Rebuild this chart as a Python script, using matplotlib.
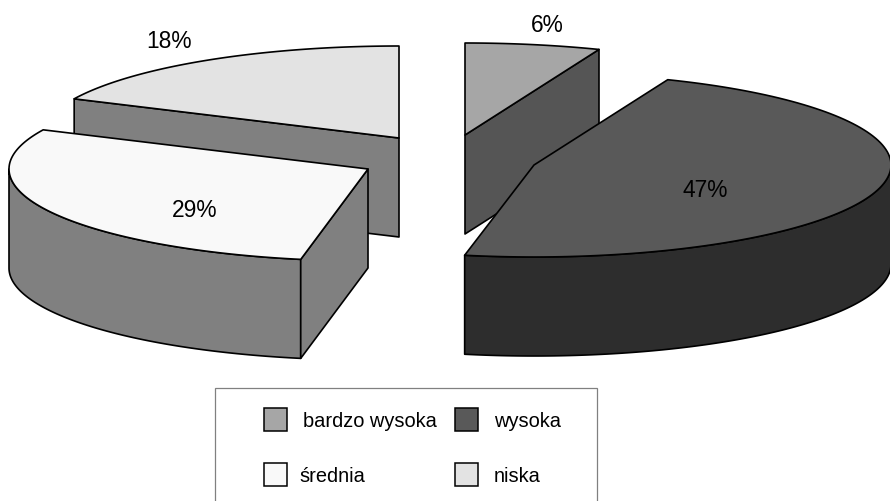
import numpy as np
import matplotlib.pyplot as plt
from matplotlib.patches import Polygon, Rectangle

# udział każdej kategorii w procentach
categories = ['bardzo wysoka', 'wysoka', 'średnia', 'niska']
shares = [6, 47, 29, 18]
top_colors = ['#a6a6a6', '#595959', '#f9f9f9', '#e3e3e3']
side_colors = ['#555555', '#2d2d2d', '#808080', '#808080']

plt.rcParams['font.family'] = ['Liberation Sans', 'DejaVu Sans']

# elipsa w pikselach, grubość plastra, odsunięte środki i lekki obrót plastrów
radii_x = [364, 357, 359, 359]
turn = [0, 0.4, 0, 0]
RY, DEPTH = 92, 99
centers = [(465, 136), (534, 166), (368, 170), (399, 139)]
LW = 1.2

fig = plt.figure(figsize=(8.9, 5.02), dpi=100)
ax = fig.add_axes([0, 0, 1, 1])
ax.set_xlim(0, 890)
ax.set_ylim(502, 0)
ax.axis('off')


# punkt na elipsie, kąt liczony od góry zgodnie z zegarem
def rim(c, rx, deg):
    t = np.radians(deg)
    return np.column_stack([c[0] + rx * np.sin(t), c[1] - RY * np.cos(t)])


def poly(pts, color, z):
    ax.add_patch(Polygon(pts, closed=True, facecolor=color, edgecolor='black',
                         linewidth=LW, joinstyle='round', zorder=z))


edges = np.concatenate([[0], np.cumsum(shares)]) * 3.6
# rysowanie od tyłu: niska, bardzo wysoka, średnia, wysoka
order = [3, 0, 2, 1]

for z, i in enumerate(order):
    c = centers[i]
    rx = radii_x[i]
    a0, a1 = edges[i] + turn[i], edges[i + 1] + turn[i]
    arc = rim(c, rx, np.linspace(a0, a1, 120))
    drop = np.array([0, DEPTH])
    apex = np.array(c, dtype=float)
    z0 = 2 + z * 3

    # ścianka zewnętrzna, tylko z przodu elipsy
    lo, hi = max(a0, 90), min(a1, 270)
    if lo < hi:
        front = rim(c, rx, np.linspace(lo, hi, 120))
        poly(np.vstack([front, (front + drop)[::-1]]), side_colors[i], z0)

    # ścianki wzdłuż promieni
    if i == 0:
        p = arc[-1]
        poly([apex, p, p + drop, apex + drop], side_colors[i], z0 + 1)
    elif i in (2, 3):
        p = arc[0]
        poly([apex, p, p + drop, apex + drop], side_colors[i], z0 + 1)

    # górna powierzchnia
    poly(np.vstack([[apex], arc]), top_colors[i], z0 + 2)

# etykiety procentowe
label_pos = [(547, 25), (705, 191), (195, 211), (169, 42)]
for s, (x, y) in zip(shares, label_pos):
    ax.text(x, y, f'{s}%', fontsize=16.4, ha='center', va='center', color='black', zorder=30)

# legenda w ramce, dolna krawędź poza obrazem
ax.add_patch(Rectangle((214.5, 388.5), 382, 130, facecolor='white', edgecolor='#808080',
                       linewidth=0.9, zorder=30, clip_on=True))
swatches = [(264, 408.5), (455, 408.5), (264, 464), (455, 464)]
text_x = [303, 494, 299, 494]
for i, (x, y) in enumerate(swatches):
    ax.add_patch(Rectangle((x, y), 23, 23, facecolor=top_colors[i], edgecolor='black',
                           linewidth=1.1, zorder=31))
    ax.text(text_x[i], y + 13, categories[i], fontsize=14.4, ha='left', va='center',
            color='black', zorder=31)

fig.savefig('out.png', dpi=100)
